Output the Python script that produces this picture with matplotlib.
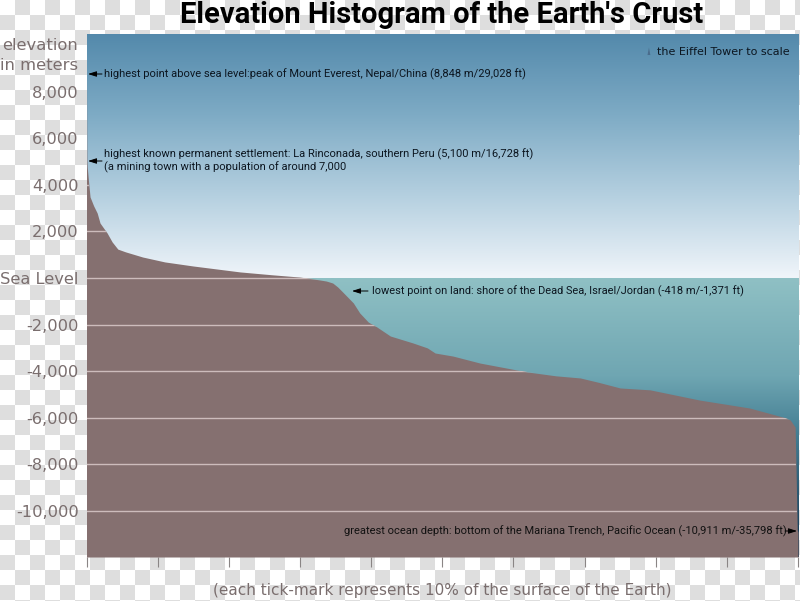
import numpy as np
import matplotlib.pyplot as plt
from matplotlib.colors import LinearSegmentedColormap

# percent of earth surface vs elevation in meters
surface_pct = [0, 0.05, 0.1, 0.3, 0.5, 1.0, 1.5, 1.9, 2.9, 3.6, 4.4, 5.5, 7.9, 11, 15, 21.6, 26, 30, 31.8, 32.8,
               33.7, 34.6, 35.3, 36, 37.5, 38.4, 39.6, 40.8, 42.7, 45.9, 47.9, 49, 51.5, 55.3, 61.9, 66,
               69.4, 72, 75, 79.2, 86.2, 93.2, 97.9, 98.9, 99.6, 99.9, 100]
elevation_m = [8848, 5100, 4760, 4100, 3480, 3100, 2790, 2360, 1930, 1550, 1240, 1120, 900, 690, 515, 260, 140,
               40, -40, -85, -130, -215, -385, -600, -1070, -1500, -1890, -2100, -2490, -2790, -3000,
               -3220, -3350, -3650, -4030, -4200, -4290, -4480, -4720, -4800, -5240, -5580, -5970, -6090,
               -6400, -10800, -10911]

y_ticks = [8000, 6000, 4000, 2000, 0, -2000, -4000, -6000, -8000, -10000]
y_labels = ['8,000', '6,000', '4,000', '2,000', 'Sea Level', '-2,000', '-4,000', '-6,000', '-8,000', '-10,000']
x_ticks = [0, 10, 20, 30, 40, 50, 60, 70, 80, 90, 100]

W, H = 800, 601
TOP, BOTTOM, LEFT, RIGHT = 34, 557, 86.5, 798
YMAX, YMIN = 10472, -11974
TEXT_GREY = '#7a6e6e'
LAND = '#857070'


def fx(px):
    return px / W


def fy(py):
    return 1 - py / H


fig = plt.figure(figsize=(8, 6.01), dpi=100)

# checkerboard behind everything
bg = fig.add_axes([0, 0, 1, 1], zorder=0)
rows, cols = np.indices((41, 54))
bg.imshow((rows + cols) % 2, cmap=LinearSegmentedColormap.from_list('chk', ['#ffffff', '#dedede']),
          extent=[0, 810, 615, 0], interpolation='nearest', aspect='equal')
bg.set_xlim(0, W)
bg.set_ylim(H, 0)
bg.axis('off')

ax = fig.add_axes([fx(LEFT), fy(BOTTOM), (RIGHT - LEFT) / W, (BOTTOM - TOP) / H], zorder=1)
ax.patch.set_alpha(0)

# sky and water gradients
sky = LinearSegmentedColormap.from_list('sky', ['#f0f5fa', '#b5d0e0', '#7eabc5', '#5389ab'])
water = LinearSegmentedColormap.from_list('water', [(0, '#8fc0c4'), (0.35, '#6fa6b2'), (0.55, '#457f94'),
                                                    (1, '#10324f')])
grad = np.linspace(0, 1, 256).reshape(-1, 1)
ax.imshow(grad, cmap=sky, origin='lower', extent=[0, 100, 0, YMAX], aspect='auto', zorder=1, interpolation='bilinear')
ax.imshow(grad, cmap=water, origin='upper', extent=[0, 100, YMIN, 0], aspect='auto', zorder=1, interpolation='bilinear')

land = ax.fill_between(surface_pct, elevation_m, YMIN, color=LAND, lw=0, zorder=2)

# white-ish elevation lines only show on the land
for tick in y_ticks:
    line = ax.axhline(tick, color='#cdbcbc', lw=1, zorder=3)
    line.set_clip_path(land.get_paths()[0], land.get_transform())

ax.set_xlim(0, 100)
ax.set_ylim(YMIN, YMAX)
for side in ax.spines.values():
    side.set_visible(False)
ax.set_xticks(x_ticks)
ax.set_xticklabels([])
ax.tick_params(axis='x', length=7, width=0.8, color='#8a8585')
ax.set_yticks(y_ticks)
ax.set_yticklabels(y_labels, fontsize=11.7, color=TEXT_GREY)
ax.tick_params(axis='y', length=0, pad=5.5)

narrow = ['Roboto', 'DejaVu Sans']
note_color = '#0c1620'
note_size = 8

fig.text(fx(441.5), fy(15), "Elevation Histogram of the Earth's Crust", ha='center', va='center',
         fontsize=21, fontweight='bold', family=narrow, color='black')
fig.text(fx(78), fy(55.5), 'elevation\nin meters', ha='right', va='center', fontsize=11.8,
         color=TEXT_GREY, linespacing=1.5)
fig.text(fx(442), fy(591), '(each tick-mark represents 10% of the surface of the Earth)', ha='center',
         va='center', fontsize=11, color=TEXT_GREY)

fig.text(fx(104), fy(74.5), 'highest point above sea level:peak of Mount Everest, Nepal/China (8,848 m/29,028 ft)',
         va='center', fontsize=note_size, family=narrow, color=note_color)
fig.text(fx(104), fy(161), 'highest known permanent settlement: La Rinconada, southern Peru (5,100 m/16,728 ft)\n'
         '(a mining town with a population of around 7,000', va='center', fontsize=note_size, family=narrow,
         color=note_color, linespacing=1.2)
fig.text(fx(372), fy(291), 'lowest point on land: shore of the Dead Sea, Israel/Jordan (-418 m/-1,371 ft)',
         va='center', fontsize=note_size * 0.99, family=narrow, color=note_color)
fig.text(fx(344), fy(531), 'greatest ocean depth: bottom of the Mariana Trench, Pacific Ocean (-10,911 m/-35,798 ft)',
         va='center', fontsize=note_size, family=narrow, color='#111111')
fig.text(fx(657), fy(52), 'the Eiffel Tower to scale', va='center', fontsize=8, color=note_color)

# tiny tower, 324 m tall on the elevation scale
ax.fill([78.85, 79.05, 79.25], [9570, 9570 + 324, 9570], color='#4a6c8c', lw=0, zorder=4)

arrow = dict(arrowstyle='-|>,head_length=0.5,head_width=0.16', color='black', lw=0.7, shrinkA=0, shrinkB=0)
for target, start in [((88, 74), (102, 74)), ((88, 161), (102, 161)), ((352, 291), (368, 291)), ((797, 531), (785, 531))]:
    ax.annotate('', xy=(target[0], H - target[1]), xytext=(start[0], H - start[1]),
                xycoords='figure pixels', textcoords='figure pixels', arrowprops=arrow, zorder=5)

fig.savefig('out.png', dpi=100)
